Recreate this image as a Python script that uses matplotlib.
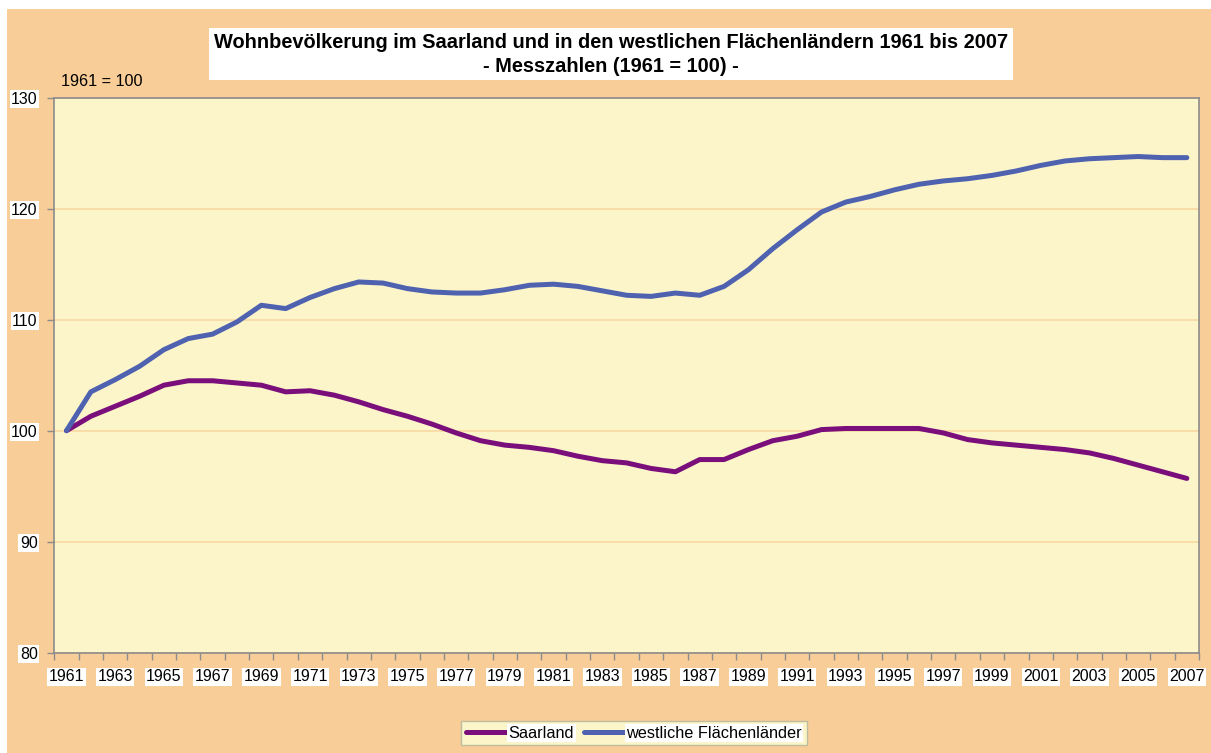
import matplotlib.pyplot as plt
import numpy as np
from matplotlib.patches import Rectangle

plt.rcParams['font.family'] = ['Liberation Sans', 'DejaVu Sans']

years = np.arange(1961, 2008)

saarland = [100.0, 101.3, 102.2, 103.1, 104.1, 104.5, 104.5, 104.3, 104.1, 103.5,
            103.6, 103.2, 102.6, 101.9, 101.3, 100.6, 99.8, 99.1, 98.7, 98.5,
            98.2, 97.7, 97.3, 97.1, 96.6, 96.3, 97.4, 97.4, 98.3, 99.1,
            99.5, 100.1, 100.2, 100.2, 100.2, 100.2, 99.8, 99.2, 98.9, 98.7,
            98.5, 98.3, 98.0, 97.5, 96.9, 96.3, 95.7]

westlich = [100.0, 103.5, 104.6, 105.8, 107.3, 108.3, 108.7, 109.8, 111.3, 111.0,
            112.0, 112.8, 113.4, 113.3, 112.8, 112.5, 112.4, 112.4, 112.7, 113.1,
            113.2, 113.0, 112.6, 112.2, 112.1, 112.4, 112.2, 113.0, 114.5, 116.4,
            118.1, 119.7, 120.6, 121.1, 121.7, 122.2, 122.5, 122.7, 123.0, 123.4,
            123.9, 124.3, 124.5, 124.6, 124.7, 124.6, 124.6]

label_years = years[::2]
y_ticks = [80, 90, 100, 110, 120, 130]

W, H = 1211, 753
fig = plt.figure(figsize=(W / 100, H / 100), dpi=100, facecolor='white')

# orange chart background
fig.patches.append(Rectangle((7 / W, 0), 1 - 7 / W, 1 - 9 / H, transform=fig.transFigure,
                             facecolor='#F8CD98', edgecolor='none', zorder=-2))
# white box behind title
fig.patches.append(Rectangle((209 / W, 1 - 80 / H), 804 / W, 52 / H, transform=fig.transFigure,
                             facecolor='white', edgecolor='none', zorder=-1))
fig.text(611 / W, 1 - 43 / H,
         'Wohnbevölkerung im Saarland und in den westlichen Flächenländern 1961 bis 2007',
         ha='center', va='center', fontsize=14.4, fontweight='bold')
fig.text(611 / W, 1 - 66 / H, '- Messzahlen (1961 = 100) -',
         ha='center', va='center', fontsize=14.4, fontweight='bold')
fig.text(61 / W, 1 - 81 / H, '1961 = 100', ha='left', va='center', fontsize=11.7)

ax = fig.add_axes([54.3 / W, 1 - 652.7 / H, (1199 - 54.3) / W, (652.7 - 97.7) / H])
ax.set_zorder(2)
ax.set_facecolor('#FDF5CA')

ax.plot(years, saarland, color='#7A0F7C', lw=3.6, label='Saarland', solid_capstyle='round')
ax.plot(years, westlich, color='#4E62B0', lw=3.6, label='westliche Flächenländer',
        solid_capstyle='round')

ax.set_xlim(1960.5, 2007.5)
ax.set_ylim(80, 130)
ax.set_yticks(y_ticks)
ax.yaxis.grid(True, color='#F9D9A3', lw=1.2)
ax.set_axisbelow(True)

ax.set_xticks(label_years)
ax.set_xticks(np.arange(1960.5, 2008), minor=True)
ax.tick_params(axis='x', which='major', length=0, pad=12, labelsize=11.5)
ax.tick_params(axis='x', which='minor', length=5, color='#8C8C8C', width=1)
ax.tick_params(axis='y', length=5, color='#8C8C8C', width=1, pad=7, labelsize=11.5)

for lab in ax.get_xticklabels() + ax.get_yticklabels():
    lab.set_bbox(dict(facecolor='white', edgecolor='none', pad=1))

for s in ax.spines.values():
    s.set_color('#8C8C8C')
    s.set_linewidth(1.2)

leg = ax.legend(loc='center', bbox_to_anchor=(634 / W, 1 - 733 / H), bbox_transform=fig.transFigure,
                ncol=2, fontsize=11.7, frameon=True, fancybox=False, handlelength=2.5,
                handletextpad=0.1, columnspacing=0.6, borderpad=0.3, borderaxespad=0)
leg.get_frame().set_facecolor('#FDF5CA')
leg.get_frame().set_edgecolor('#BDBDA0')
leg.get_frame().set_alpha(1)
for t in leg.get_texts():
    t.set_bbox(dict(facecolor='white', edgecolor='none', pad=1))

fig.savefig('out.png', dpi=100, facecolor='white')
